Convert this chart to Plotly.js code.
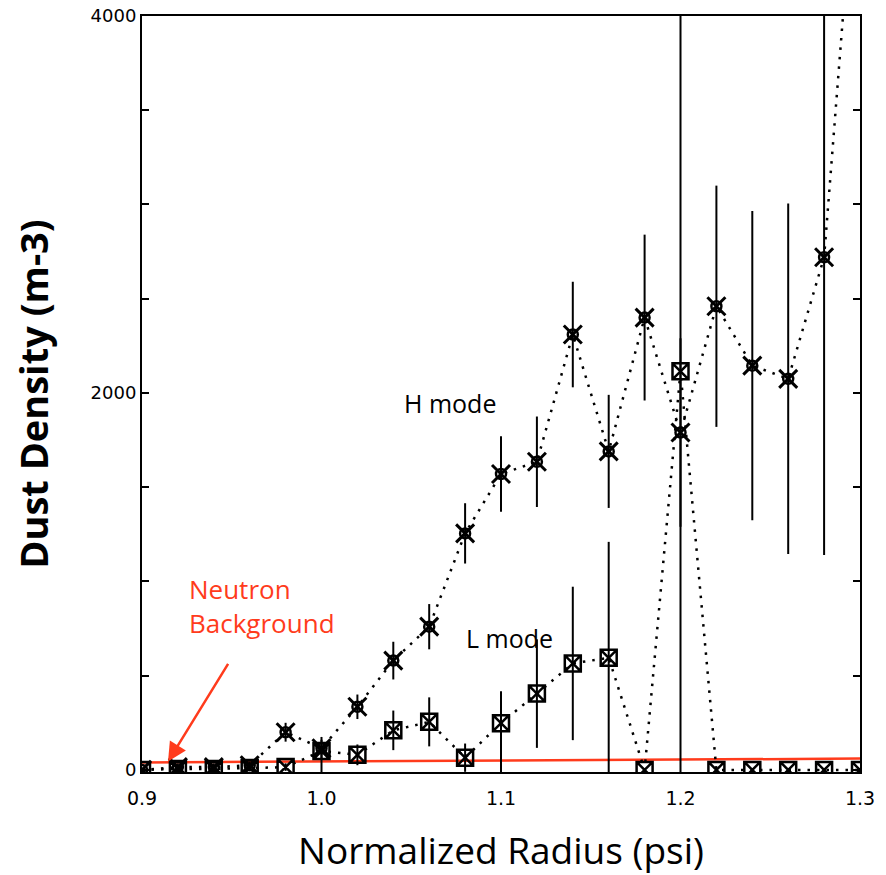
<!DOCTYPE html>
<html><head><meta charset="utf-8">
<script src="https://cdn.plot.ly/plotly-3.0.1.min.js"></script>
<style>html,body{margin:0;padding:0;background:#fff}</style>
</head><body><div id="chart" style="width:886px;height:875px"></div>
<script>
// Normalized radius (psi)
const radius = [0.90,0.92,0.94,0.96,0.98,1.00,1.02,1.04,1.06,1.08,1.10,1.12,1.14,1.16,1.18,1.20,1.22,1.24,1.26,1.28,1.30];
// H mode dust density (m-3) and error
const hMode    = [0, 15, 15, 25, 200, 115, 335, 580, 760, 1255, 1570, 1635, 2310, 1690, 2400, 1790, 2460, 2145, 2075, 2720, 5150];
const hModeErr = [10, 20, 20, 20, 50, 60, 65, 100, 120, 160, 200, 240, 280, 300, 440, 500, 640, 820, 930, 1580, 0];
// L mode dust density (m-3) and error (upper / lower)
const lMode         = [0, 5, 5, 10, 15, 100, 80, 210, 255, 65, 248, 405, 565, 595, 0, 2115, 0, 0, 0, 0, 0];
const lModeErrPlus  = [0, 10, 10, 10, 20, 60, 55, 105, 130, 75, 170, 288, 407, 615, 0, 2300, 0, 0, 0, 0, 0];
const lModeErrMinus = [0, 10, 10, 10, 20, 120, 55, 105, 130, 75, 260, 288, 407, 615, 0, 2300, 0, 0, 0, 0, 0];
// Neutron background level
const bgRadius = [0.90, 1.30];
const bgLevel  = [40, 60];
// Axis ticks
const xTicks = [0.9, 1.0, 1.1, 1.2, 1.3];
const xTickText = ["0.9", "1.0", "1.1", "1.2", "1.3"];
const yTicks = [0, 2000, 4000];
const yTickText = ["0", "2000", "4000"];

const red = '#ff3b1c';
const dotDash = '2.5px,7px';

const traces = [
  {x: bgRadius, y: bgLevel, mode: 'lines', line: {color: red, width: 2.5}, hoverinfo: 'skip'},
  {x: radius, y: lMode, mode: 'lines+markers',
   line: {color: '#000', width: 2.5, dash: dotDash},
   marker: {symbol: 'square-x-open', size: 16, color: '#000', line: {color: '#000', width: 2.5}},
   error_y: {type: 'data', symmetric: false, array: lModeErrPlus, arrayminus: lModeErrMinus,
             color: '#000', thickness: 2, width: 0}},
  {x: radius, y: hMode, mode: 'lines+markers',
   line: {color: '#000', width: 2.5, dash: dotDash},
   marker: {symbol: 'x-thin-open', size: 18, color: '#000', line: {color: '#000', width: 3}},
   error_y: {type: 'data', array: hModeErr, color: '#000', thickness: 2, width: 0}},
  {x: radius, y: hMode, mode: 'markers',
   marker: {symbol: 'circle-open', size: 10, color: '#000', line: {color: '#000', width: 2.5}}}
];

const layout = {
  width: 886, height: 875,
  margin: {l: 142, r: 26, t: 16, b: 103},
  paper_bgcolor: '#fff', plot_bgcolor: '#fff',
  showlegend: false,
  font: {family: 'Open Sans, sans-serif', color: '#000'},
  xaxis: {
    range: [0.9, 1.3], tickvals: xTicks, ticktext: xTickText,
    ticks: '', showgrid: false, zeroline: false,
    showline: true, linecolor: '#000', linewidth: 2, mirror: true,
    ticklabelstandoff: 8,
    tickfont: {size: 19, family: 'DejaVu Sans, sans-serif'},
    title: {text: 'Normalized Radius (psi)', font: {size: 37, family: 'Open Sans, sans-serif'}, standoff: 34}
  },
  yaxis: {
    range: [-11, 4000], tickvals: yTicks, ticktext: yTickText,
    ticks: 'inside', ticklen: 7, tickwidth: 2, tickcolor: '#000',
    minor: {dtick: 500, tick0: 0, ticks: 'inside', ticklen: 7, tickwidth: 2, tickcolor: '#000', showgrid: false},
    showgrid: false, zeroline: false,
    showline: true, linecolor: '#000', linewidth: 2, mirror: 'ticks',
    tickfont: {size: 18, family: 'DejaVu Sans, sans-serif'},
    title: {text: 'Dust Density (m-3)', font: {size: 38, family: 'Open Sans, sans-serif', weight: 'bold'}, standoff: 30}
  },
  annotations: [
    {x: 1.0716, y: 1947, xref: 'x', yref: 'y', text: 'H mode', showarrow: false,
     font: {size: 25, color: '#000'}},
    {x: 1.105, y: 702, xref: 'x', yref: 'y', text: 'L mode', showarrow: false,
     font: {size: 25, color: '#000'}},
    {x: 0.967, y: 870, xref: 'x', yref: 'y', text: 'Neutron<br>Background', showarrow: false,
     align: 'left', font: {size: 26, color: red}},
    {x: 0.9145, y: 45, xref: 'x', yref: 'y', text: '', showarrow: true,
     ax: 61, ay: -99, arrowcolor: red, arrowwidth: 2.5, arrowhead: 2, arrowsize: 1.5}
  ]
};

Plotly.newPlot('chart', traces, layout, {displayModeBar: false, staticPlot: true});
</script>
</body></html>
